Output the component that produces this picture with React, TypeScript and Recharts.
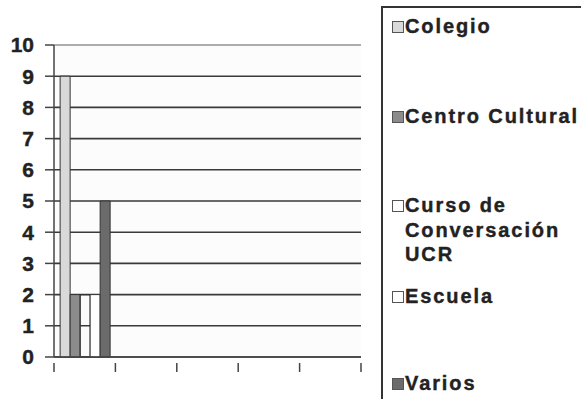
import { BarChart, Bar, XAxis, YAxis, CartesianGrid, ReferenceLine } from "recharts";

// five category slots on the x axis; only the first one holds answers
const categories = ["1", "2", "3", "4", "5"];
const colegio = [9, null, null, null, null];
const centroCultural = [2, null, null, null, null];
const cursoUCR = [2, null, null, null, null];
const escuela = [2, null, null, null, null];
const varios = [5, null, null, null, null];
const yTicks = [0, 1, 2, 3, 4, 5, 6, 7, 8, 9, 10];

const series = [
  { key: "colegio", label: ["Colegio"], values: colegio, fill: "#d9d9d9", fillOpacity: 1, top: 6 },
  { key: "centro", label: ["Centro Cultural"], values: centroCultural, fill: "#8c8c8c", fillOpacity: 1, top: 96 },
  { key: "curso", label: ["Curso de", "Conversación", "UCR"], values: cursoUCR, fill: "#ffffff", fillOpacity: 0, top: 185 },
  { key: "escuela", label: ["Escuela"], values: escuela, fill: "#ffffff", fillOpacity: 1, top: 276 },
  { key: "varios", label: ["Varios"], values: varios, fill: "#6b6b6b", fillOpacity: 1, top: 363 },
];

const data = categories.map((c, i) => {
  const row: Record<string, string | number | null> = { name: c };
  series.forEach((s) => {
    row[s.key] = s.values[i];
  });
  return row;
});

const FONT = "'Liberation Sans', Arial, sans-serif";

// tick marks sit on the category boundaries instead of the centres
const BoundaryTick = (props: any) => {
  const { x, y, index, visibleTicksCount } = props;
  const half = 307 / categories.length / 2;
  return (
    <g>
      <line x1={x - half} x2={x - half} y1={y - 2} y2={y + 7} stroke="#444" strokeWidth={1.5} />
      {index === visibleTicksCount - 1 && (
        <line x1={x + half} x2={x + half} y1={y - 2} y2={y + 7} stroke="#444" strokeWidth={1.5} />
      )}
    </g>
  );
};

function Legend() {
  return (
    <div
      style={{
        position: "absolute",
        left: 381,
        top: 6,
        width: 240,
        height: 420,
        borderLeft: "2px solid #333",
        borderTop: "2px solid #333",
        background: "#fff",
        fontFamily: FONT,
        fontWeight: "bold",
        fontSize: 20,
        letterSpacing: 1.9,
        color: "#222",
        WebkitTextStroke: "0.4px #222",
      }}
    >
      {series.map((s) => (
        <div key={s.key} style={{ position: "absolute", left: 9, top: s.top, lineHeight: "24.5px" }}>
          <span
            style={{
              position: "absolute",
              left: 0,
              top: 7,
              width: 10,
              height: 10,
              border: "1px solid #555",
              background: s.fill,
            }}
          />
          {s.label.map((line) => (
            <div key={line} style={{ paddingLeft: 13, whiteSpace: "nowrap" }}>
              {line}
            </div>
          ))}
        </div>
      ))}
    </div>
  );
}

export default function App() {
  return (
    <div style={{ position: "absolute", left: 0, top: 0, width: 581, height: 399, overflow: "hidden", background: "#fff" }}>
      <BarChart
        width={581}
        height={399}
        data={data}
        margin={{ top: 45, right: 220, left: 0, bottom: 0 }}
        barCategoryGap="10%"
        barGap={0}
      >
        <CartesianGrid vertical={false} stroke="#3a3a3a" strokeWidth={1.6} fill="#fcfcfc" />
        <ReferenceLine y={10} stroke="#c4c4c4" strokeWidth={1.5} />
        <XAxis
          dataKey="name"
          axisLine={{ stroke: "#444", strokeWidth: 1.5 }}
          tickLine={false}
          tick={<BoundaryTick />}
          height={42}
          interval={0}
        />
        <YAxis
          domain={[0, 10]}
          ticks={yTicks}
          interval={0}
          width={54}
          tickSize={9}
          tickMargin={11}
          axisLine={{ stroke: "#444", strokeWidth: 1.5 }}
          tickLine={{ stroke: "#444", strokeWidth: 1.5 }}
          tick={{ fill: "#222", stroke: "#222", strokeWidth: 0.4, fontFamily: FONT, fontWeight: "bold", fontSize: 21 }}
        />
        <YAxis
          yAxisId="edge"
          orientation="right"
          width={0}
          tick={false}
          tickLine={false}
          axisLine={{ stroke: "#c8c8c8", strokeWidth: 1.5 }}
        />
        {series.map((s) => (
          <Bar
            key={s.key}
            dataKey={s.key}
            name={s.label.join(" ")}
            fill={s.fill}
            fillOpacity={s.fillOpacity}
            stroke="#333"
            strokeWidth={1}
            isAnimationActive={false}
          />
        ))}
      </BarChart>
      <Legend />
    </div>
  );
}
